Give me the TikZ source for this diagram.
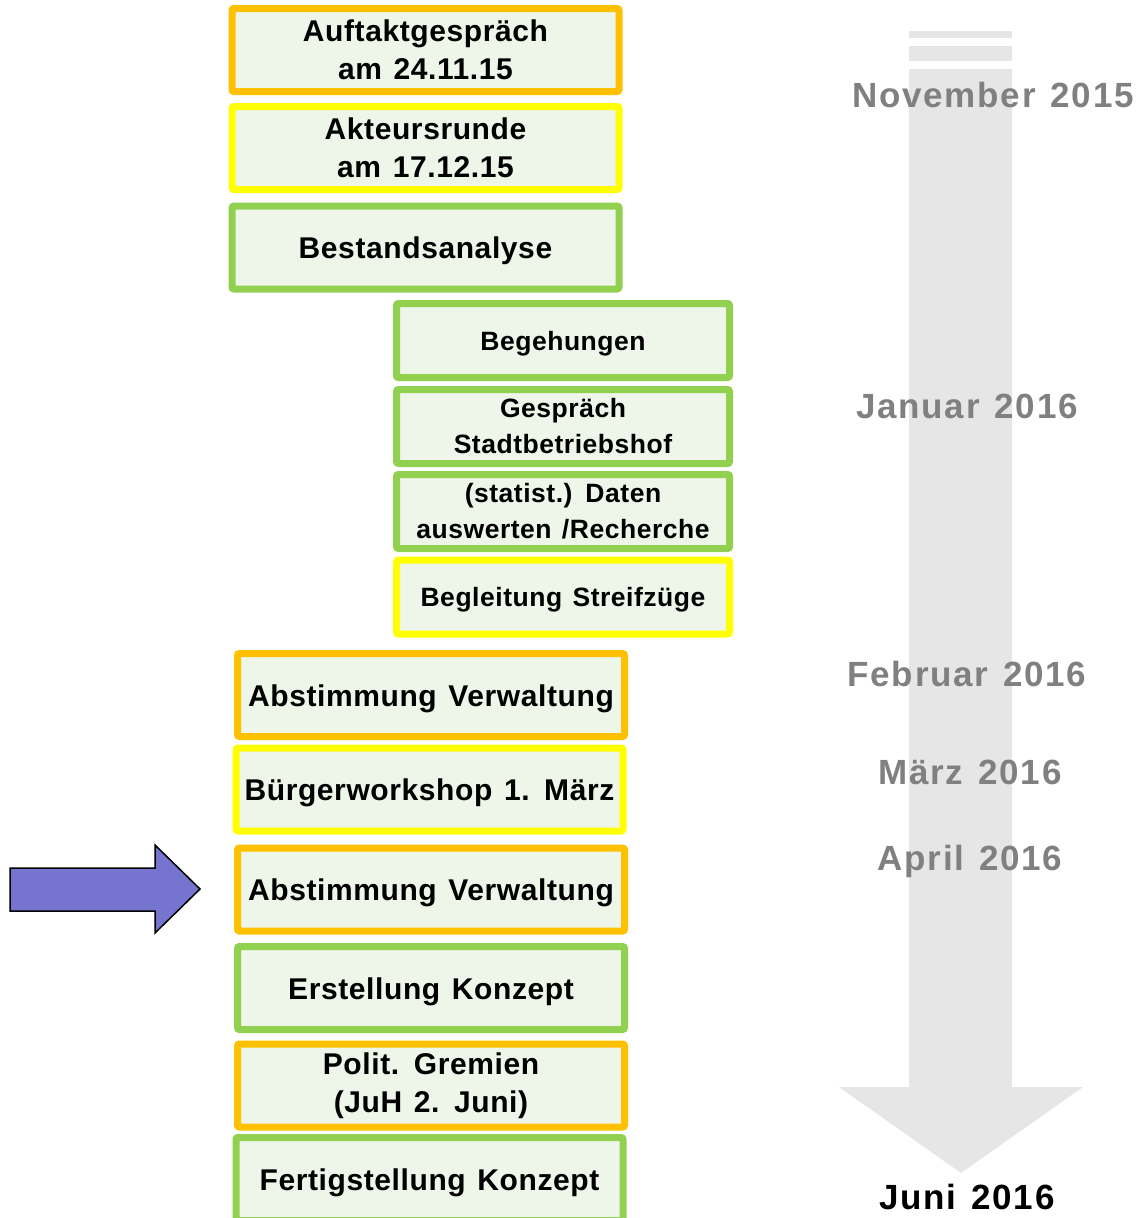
\documentclass[tikz,border=0pt]{standalone}
\usepackage{fontspec}
\setmainfont{Liberation Sans}
\newfontfamily\boxfont[LetterSpace=2, WordSpace=1.3]{Liberation Sans}
\newfontfamily\monthfont[LetterSpace=5, WordSpace=1.3]{Liberation Sans}
\definecolor{boxfill}{RGB}{238,245,233}
\definecolor{cOrange}{RGB}{255,192,0}
\definecolor{cYellow}{RGB}{255,255,0}
\definecolor{cGreen}{RGB}{146,208,80}
\definecolor{arrowgray}{RGB}{230,230,230}
\definecolor{monthgray}{RGB}{128,128,128}
\definecolor{purplearrow}{RGB}{117,117,208}
\begin{document}
\begin{tikzpicture}[x=1pt,y=-1pt,
  phase/.style={draw, line width=7pt, fill=boxfill, rounded corners=2pt, align=center,
     inner sep=0pt, font=\boxfont\bfseries\fontsize{30}{38}\selectfont,
     execute at begin node={\rule{0pt}{0.95em}}},
  wide/.style={phase, minimum width=387pt, minimum height=83pt},
  narrow/.style={phase, minimum width=333pt, minimum height=74pt, font=\boxfont\bfseries\fontsize{26.5}{36}\selectfont},
  orangebox/.style={draw=cOrange},
  yellowbox/.style={draw=cYellow},
  greenbox/.style={draw=cGreen},
  month/.style={font=\monthfont\bfseries\fontsize{35}{40}\selectfont, text=monthgray, inner sep=0pt}
]
\useasboundingbox (0,0) rectangle (1137,1218);
\clip (0,0) rectangle (1137,1218);

% timeline arrow
\fill[arrowgray] (909,31) rectangle (1012,38);
\fill[arrowgray] (909,46) rectangle (1012,61);
\fill[arrowgray] (909,69) -- (1012,69) -- (1012,1087) -- (1083,1087) -- (961,1173) -- (839,1087) -- (909,1087) -- cycle;

% month labels
\node[month] (nov) at (993,95) {November 2015};
\node[month] (jan) at (967,406) {Januar 2016};
\node[month] (feb) at (967,674) {Februar 2016};
\node[month] (mar) at (970,772) {März 2016};
\node[month] (apr) at (970,861) {April 2016};
\node[month, text=black] (jun) at (967,1197) {Juni 2016};

% phase boxes
\node[wide, orangebox] (b1) at (425.5,50) {Auftaktgespräch\\am 24.11.15};
\node[wide, yellowbox] (b2) at (425.5,148) {Akteursrunde\\am 17.12.15};
\node[wide, greenbox] (b3) at (425.5,247.5) {Bestandsanalyse};

\node[narrow, greenbox] (b4) at (563,340.5) {Begehungen};
\node[narrow, greenbox] (b5) at (563,426.5) {Gespräch\\Stadtbetriebshof};
\node[narrow, greenbox] (b6) at (563,511.5) {(statist.) Daten\\auswerten /Recherche};
\node[narrow, yellowbox] (b7) at (563,597) {Begleitung Streifzüge};

\node[wide, orangebox] (b8) at (431,695) {Abstimmung Verwaltung};
\node[wide, yellowbox] (b9) at (429.5,789.5) {Bürgerworkshop 1. März};
\node[wide, orangebox] (b10) at (431,889.5) {Abstimmung Verwaltung};
\node[wide, greenbox] (b11) at (431,988) {Erstellung Konzept};
\node[wide, orangebox] (b12) at (431,1085.5) {Polit. Gremien\\(JuH 2. Juni)};
\node[wide, greenbox] (b13) at (429.5,1179) {Fertigstellung Konzept};

% current-position arrow
\draw[fill=purplearrow, draw=black, line width=1.5pt, line join=miter]
  (10,868) -- (155,868) -- (155,845) -- (200,889) -- (155,933) -- (155,911) -- (10,911) -- cycle;
\end{tikzpicture}
\end{document}
